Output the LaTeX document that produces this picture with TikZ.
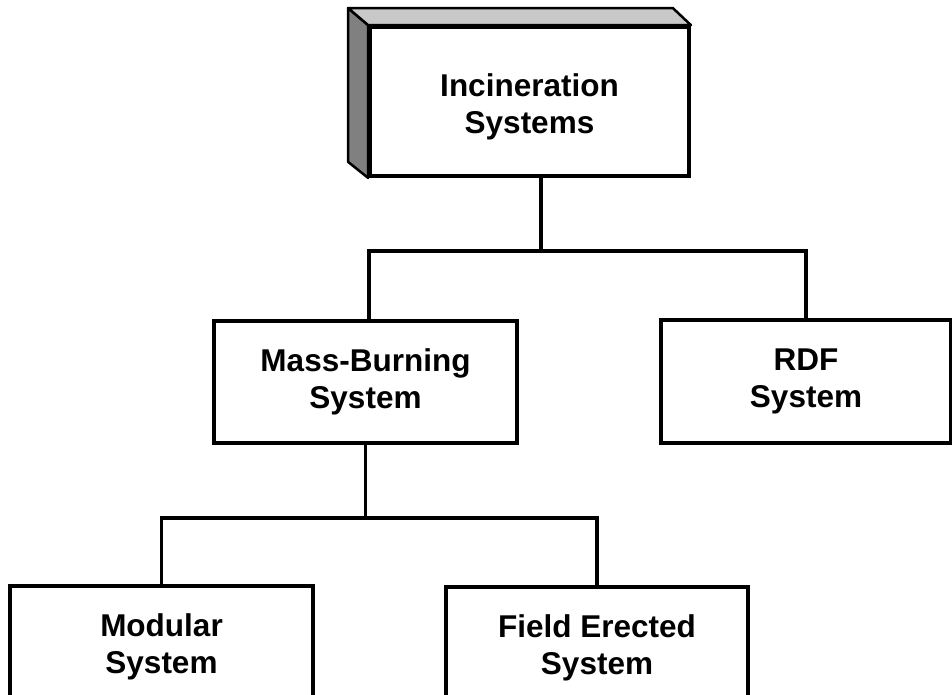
\documentclass[tikz,border=0pt]{standalone}
\usepackage{fontspec}
\setmainfont{Liberation Sans}
\usetikzlibrary{calc}
\definecolor{topface}{HTML}{C8C8C8}
\definecolor{sideface}{HTML}{808080}
\tikzset{
  lbl/.style={font=\fontsize{31.5}{37}\selectfont\bfseries, align=center},
  boxnode/.style={draw=black, line width=3.8pt, rectangle, fill=white, lbl, inner sep=0pt},
  conn/.style={draw=black, line width=3.8pt, line join=miter},
}
\begin{document}
\begin{tikzpicture}[x=1pt,y=-1pt]
\useasboundingbox (0,0) rectangle (952,695);
\clip (0,0) rectangle (952,695);
\fill[white] (0,0) rectangle (952,695);

% top 3D box
\node[boxnode, minimum width=319pt, minimum height=149pt] (top) at (529.5,101.5) {};
\filldraw[fill=sideface, draw=black, line width=2.5pt, line join=round]
  (top.north west) -- ($(top.north west)+(-20,-17)$) -- ($(top.south west)+(-20,-16)$) -- (top.south west) -- cycle;
\filldraw[fill=topface, draw=black, line width=2.5pt, line join=round]
  (top.north west) -- ($(top.north west)+(-20,-17)$) -- ($(top.north east)+(-18,-17)$) -- (top.north east) -- cycle;
\node[boxnode, minimum width=319pt, minimum height=149pt] at (top.center) {};
\node[lbl] (toplbl) at ($(top.center)+(0,5)$) {Incineration\\Systems};

% second level
\node[boxnode, minimum width=303pt, minimum height=122pt] (mass) at (365.5,382) {Mass-Burning\\System};
\node[boxnode, minimum width=290pt, minimum height=123pt] (rdf) at (806,381.5) {RDF\\System};

% third level
\node[boxnode, minimum width=303pt, minimum height=122pt] (mod) at (161.5,647) {Modular\\System};
\node[boxnode, minimum width=302pt, minimum height=122pt] (field) at (597,648) {Field Erected\\System};

% connectors
\coordinate (t1) at ($(top.south)+(11.5,0)$);
\coordinate (bus1) at (541,251);
\coordinate (bus2) at (366,518);
\draw[conn] (t1) -- (t1 |- bus1);
\draw[conn] ($(mass.north)+(3.5,0)$) |- (bus1) -| (rdf.north);
\draw[conn] (mass.south) -- (mass.south |- bus2);
\draw[conn] (mod.north) |- (bus2) -| (field.north);
\end{tikzpicture}
\end{document}
